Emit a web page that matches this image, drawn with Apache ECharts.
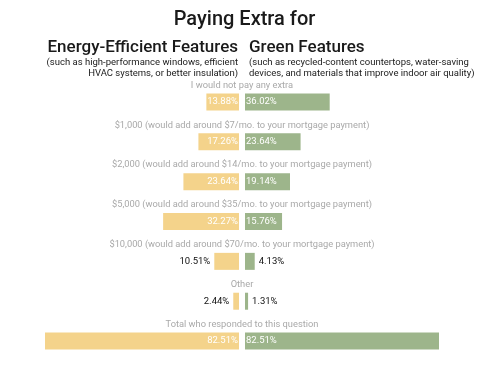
<!DOCTYPE html>
<html><head><meta charset="utf-8">
<script src="https://cdn.jsdelivr.net/npm/echarts@6/dist/echarts.min.js"></script>
<style>html,body{margin:0;padding:0;background:#fff}#c{width:489px;height:367px}</style>
</head><body><div id="c"></div>
<script>
const categories = [
  "I would not pay any extra",
  "$1,000 (would add around $7/mo. to your mortgage payment)",
  "$2,000 (would add around $14/mo. to your mortgage payment)",
  "$5,000 (would add around $35/mo. to your mortgage payment)",
  "$10,000 (would add around $70/mo. to your mortgage payment)",
  "Other",
  "Total who responded to this question"
];
const energyValues = [13.88, 17.26, 23.64, 32.27, 10.51, 2.44, 82.51];
const greenValues  = [36.02, 23.64, 19.14, 15.76, 4.13, 1.31, 82.51];
const valueLabels = v => v.toFixed(2).replace(/0$/, '') + '%';

const ORANGE = '#f4d38b', GREEN = '#9db58b';
const FONT = 'Roboto';
const axisMax = Math.max(...energyValues, ...greenValues);
const insideMin = 12;

function seriesData(vals, inPos, outPos) {
  return vals.map(v => ({
    value: v,
    label: v >= insideMin
      ? {position: inPos, color: '#ffffff', distance: 1}
      : {position: outPos, color: '#111111', distance: 4}
  }));
}

const chart = echarts.init(document.getElementById('c'), null, {renderer: 'canvas'});
chart.setOption({
  animation: false,
  title: [
    {text: 'Paying Extra for', left: 'center', top: 10, padding: 0,
     textStyle: {fontFamily: FONT, fontSize: 20, fontWeight: 500, color: '#1a1a1a'}},
    {text: 'Energy-Efficient Features', left: 238, top: 39, textAlign: 'right', padding: 0,
     subtext: '(such as high-performance windows, efficient\nHVAC systems, or better insulation)',
     itemGap: 1,
     textStyle: {fontFamily: FONT, fontSize: 17, fontWeight: 500, color: '#1a1a1a'},
     subtextStyle: {fontFamily: FONT, fontSize: 9.5, color: '#1a1a1a', lineHeight: 11}},
    {text: 'Green Features', left: 249, top: 39, padding: 0,
     subtext: '(such as recycled-content countertops, water-saving\ndevices, and materials that improve indoor air quality)',
     itemGap: 1,
     textStyle: {fontFamily: FONT, fontSize: 17, fontWeight: 500, color: '#1a1a1a'},
     subtextStyle: {fontFamily: FONT, fontSize: 9.5, color: '#1a1a1a', lineHeight: 11}}
  ],
  grid: [
    {left: 45, right: 250, top: 82, bottom: 6},
    {left: 245, right: 50, top: 82, bottom: 6}
  ],
  xAxis: [
    {gridIndex: 0, type: 'value', min: 0, max: axisMax, inverse: true, show: false},
    {gridIndex: 1, type: 'value', min: 0, max: axisMax, show: false}
  ],
  yAxis: [
    {gridIndex: 0, type: 'category', data: categories, inverse: true, show: false},
    {gridIndex: 1, type: 'category', data: categories, inverse: true,
     axisLine: {show: false}, axisTick: {show: false}, splitLine: {show: false},
     axisLabel: {interval: 0, align: 'center', margin: 3, verticalAlign: 'bottom',
       padding: [0, 0, 12, 0], fontFamily: FONT, fontSize: 9.3, color: '#a9a9a9'}}
  ],
  series: [
    {type: 'bar', xAxisIndex: 0, yAxisIndex: 0, barWidth: 17,
     itemStyle: {color: ORANGE},
     label: {show: true, fontFamily: FONT, fontSize: 9.5, formatter: p => valueLabels(p.value)},
     data: seriesData(energyValues, 'insideRight', 'left')},
    {type: 'bar', xAxisIndex: 1, yAxisIndex: 1, barWidth: 17,
     itemStyle: {color: GREEN},
     label: {show: true, fontFamily: FONT, fontSize: 9.5, formatter: p => valueLabels(p.value)},
     data: seriesData(greenValues, 'insideLeft', 'right')}
  ]
});
</script></body></html>
